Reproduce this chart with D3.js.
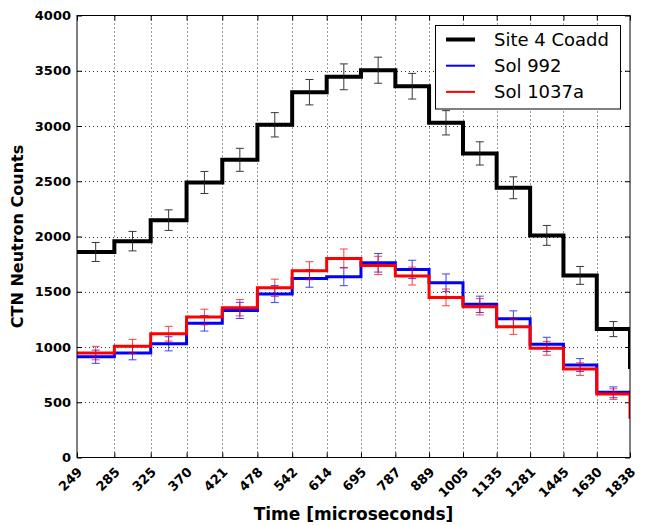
<!DOCTYPE html>
<html>
<head>
<meta charset="utf-8">
<script src="https://cdn.jsdelivr.net/npm/d3@7"></script>
<style>
  body { margin: 0; background: #fff; }
  svg { font-family: "DejaVu Sans", sans-serif; }
  .tl { font-size: 13px; font-weight: bold; fill: #000; font-family: "DejaVu Sans", sans-serif; }
</style>
</head>
<body>
<svg id="chart" width="645" height="525"></svg>
<script>
// bin edges (microseconds) and counts per bin
const edges = [249, 285, 325, 370, 421, 478, 542, 614, 695, 787, 889, 1005, 1135, 1281, 1445, 1630, 1838];
const coadd = [1860, 1958, 2148, 2489, 2694, 3011, 3306, 3445, 3505, 3360, 3029, 2752, 2441, 2010, 1648, 1162];
const coaddErr = [86, 88, 93, 100, 104, 110, 115, 117, 118, 116, 110, 105, 99, 90, 81, 68];
const sol992 = [912, 945, 1029, 1214, 1331, 1479, 1621, 1636, 1762, 1702, 1581, 1386, 1256, 1024, 837, 590];
const sol992Err = [60, 61, 64, 70, 73, 77, 80, 81, 84, 83, 80, 74, 71, 64, 58, 49];
const sol1037 = [945, 1006, 1120, 1271, 1355, 1536, 1690, 1802, 1738, 1642, 1449, 1364, 1183, 988, 800, 574];
const sol1037Err = [61, 63, 67, 71, 74, 78, 82, 85, 83, 81, 76, 74, 69, 63, 57, 48];
// value the step drops to at the last edge
const coaddEnd = 800;
const sol1037End = 350;
const yTicks = [0, 500, 1000, 1500, 2000, 2500, 3000, 3500, 4000];

const svg = d3.select("#chart");
const pLeft = 77, pRight = 630, pTop = 15.5, pBottom = 457.5;

const x = d3.scaleLog().domain([249, 1838]).range([pLeft, pRight]);
const y = d3.scaleLinear().domain([0, 4000]).range([pBottom, pTop]);

svg.append("defs").append("clipPath").attr("id", "clip")
  .append("rect").attr("x", pLeft).attr("y", pTop)
  .attr("width", pRight - pLeft).attr("height", pBottom - pTop);

// grid
const grid = svg.append("g").attr("stroke", "#000").attr("stroke-width", 1)
  .attr("stroke-dasharray", "1,3").attr("opacity", 0.8);
grid.selectAll(".gx").data(edges.slice(1, -1)).enter().append("line")
  .attr("x1", d => Math.round(x(d)) + 0.5).attr("x2", d => Math.round(x(d)) + 0.5)
  .attr("y1", pTop).attr("y2", pBottom);
grid.selectAll(".gy").data(yTicks.slice(1, -1)).enter().append("line")
  .attr("y1", d => Math.round(y(d)) + 0.5).attr("y2", d => Math.round(y(d)) + 0.5)
  .attr("x1", pLeft).attr("x2", pRight);

// axes with inward ticks (labels drawn separately)
svg.append("g").attr("transform", `translate(0,${pBottom})`)
  .call(d3.axisBottom(x).tickValues(edges).tickFormat("").tickSizeInner(-5).tickSizeOuter(0))
  .select(".domain").remove();
svg.append("g").attr("transform", `translate(0,${pTop})`)
  .call(d3.axisTop(x).tickValues(edges).tickFormat("").tickSizeInner(-5).tickSizeOuter(0))
  .select(".domain").remove();
svg.append("g").attr("transform", `translate(${pLeft},0)`)
  .call(d3.axisLeft(y).tickValues(yTicks).tickFormat("").tickSizeInner(-5).tickSizeOuter(0))
  .select(".domain").remove();
svg.append("g").attr("transform", `translate(${pRight},0)`)
  .call(d3.axisRight(y).tickValues(yTicks).tickFormat("").tickSizeInner(-5).tickSizeOuter(0))
  .select(".domain").remove();

// tick labels, x ones rotated 45 degrees
svg.append("g").selectAll("text").data(edges).enter().append("text")
  .attr("class", "tl")
  .attr("text-anchor", "end").attr("dy", "0.35em")
  .style("transform-origin", "0 0")
  .style("transform", d => `translate(${x(d) + 3}px, ${pBottom + 12}px) rotate(-45deg)`)
  .text(d => d);
svg.append("g").selectAll("text").data(yTicks).enter().append("text")
  .attr("class", "tl")
  .attr("x", pLeft - 6).attr("y", d => y(d)).attr("dy", "0.35em")
  .attr("text-anchor", "end")
  .text(d => d);

// step lines + error bars
const plot = svg.append("g").attr("clip-path", "url(#clip)");
const line = d3.line().x(d => x(d[0])).y(d => y(d[1]));

function stepPoints(vals, endVal) {
  const pts = [];
  vals.forEach((v, i) => { pts.push([edges[i], v]); pts.push([edges[i + 1], v]); });
  if (endVal !== undefined) pts.push([edges[edges.length - 1], endVal]);
  return pts;
}

function drawSeries(vals, errs, color, width, endVal, errColor, errOpacity) {
  plot.append("path").datum(stepPoints(vals, endVal))
    .attr("d", line).attr("fill", "none").attr("stroke", color)
    .attr("stroke-width", width).attr("stroke-linejoin", "miter");
  const eb = plot.append("g").attr("stroke", errColor).attr("stroke-width", 1).attr("opacity", errOpacity);
  vals.forEach((v, i) => {
    const cx = (x(edges[i]) + x(edges[i + 1])) / 2;
    eb.append("line").attr("x1", cx).attr("x2", cx).attr("y1", y(v - errs[i])).attr("y2", y(v + errs[i]));
    [v - errs[i], v + errs[i]].forEach(e => {
      eb.append("line").attr("x1", cx - 4).attr("x2", cx + 4).attr("y1", y(e)).attr("y2", y(e));
    });
  });
}

drawSeries(coadd, coaddErr, "#000", 4, coaddEnd, "#222", 0.9);
drawSeries(sol992, sol992Err, "#0000ff", 3, undefined, "#0000ff", 0.75);
drawSeries(sol1037, sol1037Err, "#ff0000", 3, sol1037End, "#ff0000", 0.75);

// frame
svg.append("rect").attr("x", pLeft).attr("y", pTop).attr("width", pRight - pLeft).attr("height", pBottom - pTop)
  .attr("fill", "none").attr("stroke", "#000").attr("stroke-width", 1);

// legend
const legend = svg.append("g");
legend.append("rect").attr("x", 435.5).attr("y", 25.5).attr("width", 185).attr("height", 83.5)
  .attr("fill", "#fff").attr("stroke", "#000").attr("stroke-width", 1);
const legItems = [
  { name: "Site 4 Coadd", color: "#000", w: 4 },
  { name: "Sol 992", color: "#0000ff", w: 2 },
  { name: "Sol 1037a", color: "#ff0000", w: 2 }
];
legItems.forEach((d, i) => {
  const ly = 39.5 + i * 26.2;
  legend.append("line").attr("x1", 446).attr("x2", 475).attr("y1", ly).attr("y2", ly)
    .attr("stroke", d.color).attr("stroke-width", d.w);
  legend.append("text").attr("x", 494).attr("y", ly).attr("dy", "0.36em")
    .style("font-size", "18px").attr("fill", "#000").text(d.name);
});

// axis titles
svg.append("text").attr("x", (pLeft + pRight) / 2).attr("y", 520)
  .attr("text-anchor", "middle").style("font-size", "17px").style("font-weight", "bold")
  .text("Time [microseconds]");
svg.append("text").attr("transform", `translate(23,${(pTop + pBottom) / 2}) rotate(-90)`)
  .attr("text-anchor", "middle").style("font-size", "16px").style("font-weight", "bold")
  .text("CTN Neutron Counts");
</script>
</body>
</html>
